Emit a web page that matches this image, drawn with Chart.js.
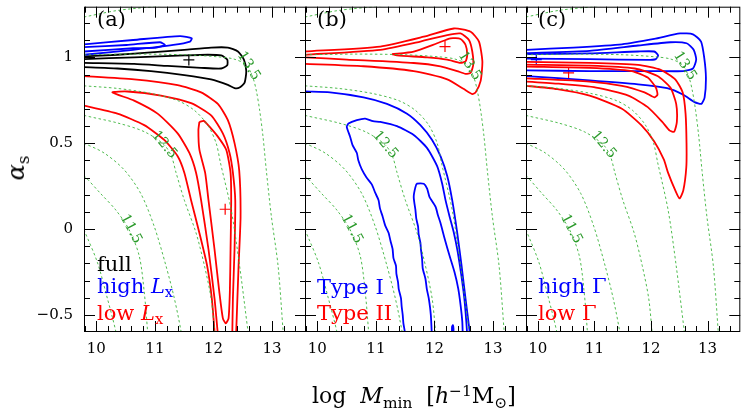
<!DOCTYPE html>
<html>
<head>
<meta charset="utf-8">
<script src="https://cdn.jsdelivr.net/npm/chart.js@4.4.1/dist/chart.umd.min.js"></script>
<style>
    body { margin: 0; background: #fff; }
    #wrap { position: relative; width: 747px; height: 414px; overflow: hidden; font-family: 'DejaVu Serif', serif; }
    #wrap canvas { position: absolute; left: 0; top: 0; }
    .txt { position: absolute; white-space: nowrap; font-size: 21px; line-height: 1; }
    .sub { font-size: 0.7em; position: relative; top: 0.3em; }
    .sup { font-size: 0.7em; position: relative; top: -0.45em; }
    .blue { color: #0000ff; }
    .red { color: #ff0000; }
</style>
</head>
<body>
<div id="wrap">
    <canvas id="panelA" width="747" height="414"></canvas>
    <canvas id="panelB" width="747" height="414"></canvas>
    <canvas id="panelC" width="747" height="414"></canvas>

    <div class="txt" style="left:97px; top:9px;">(a)</div>
    <div class="txt" style="left:317px; top:9px;">(b)</div>
    <div class="txt" style="left:538px; top:9px;">(c)</div>

    <div class="txt" style="left:97px; top:254px;">full</div>
    <div class="txt blue" style="left:97px; top:276px;">high <i>L</i><span class="sub">x</span></div>
    <div class="txt red" style="left:97px; top:303px;">low <i>L</i><span class="sub">x</span></div>

    <div class="txt blue" style="left:317px; top:277px;">Type I</div>
    <div class="txt red" style="left:317px; top:303px;">Type II</div>

    <div class="txt blue" style="left:538px; top:276px;">high Γ</div>
    <div class="txt red" style="left:538px; top:303px;">low Γ</div>

    <div class="txt" style="left:312px; top:385px; font-size:22px;">log&nbsp;&nbsp;<i>M</i><span class="sub">min</span>&nbsp;&nbsp;[<i>h</i><span class="sup">−1</span>M<span class="sub">⊙</span>]</div>
    <div class="txt" style="left:16px; top:168px; font-size:24px; transform: translate(-50%, -50%) rotate(-90deg);"><i>α</i><span class="sub">s</span></div>
</div>

<script>
//################# Axes #################
const X_MIN = 9.79, X_MAX = 13.58;
const Y_MIN = -0.6, Y_MAX = 1.295;
const xMajorTicks = [10, 11, 12, 13];
const yMajorTicks = [-0.5, 0, 0.5, 1];
const xTickMarks = [9.8, 10, 10.2, 10.4, 10.6, 10.8, 11, 11.2, 11.4, 11.6, 11.8, 12, 12.2, 12.4, 12.6, 12.8, 13, 13.2, 13.4];
const yTickMarks = [-0.5, -0.4, -0.3, -0.2, -0.1, 0, 0.1, 0.2, 0.3, 0.4, 0.5, 0.6, 0.7, 0.8, 0.9, 1, 1.1, 1.2];

//################# Green iso-mass curves (same in all panels) #################
const iso110 = [[9.70, 0.07], [9.789, -0.004], [10.018, -0.194], [10.189, -0.404], [10.332, -0.595], [10.35, -0.65]];
const iso115 = [[9.70, 0.33], [9.789, 0.311], [10.075, 0.206], [10.332, 0.111], [10.56, -0.004], [10.732, -0.156], [10.818, -0.366], [10.875, -0.595], [10.88, -0.65]];
const iso120 = [[9.70, 0.515], [9.789, 0.50], [10.132, 0.443], [10.475, 0.345], [10.76, 0.206], [10.989, 0.015], [11.189, -0.214], [11.332, -0.404], [11.446, -0.595], [11.46, -0.65]];
const iso125 = [[9.70, 0.675], [9.789, 0.662], [10.36, 0.618], [10.818, 0.567], [11.16, 0.49], [11.286, 0.42], [11.36, 0.33], [11.503, 0.168], [11.703, -0.023], [11.846, -0.214], [11.96, -0.404], [12.018, -0.595], [12.03, -0.65]];
const iso130 = [[9.70, 0.836], [9.789, 0.834], [10.36, 0.819], [10.932, 0.79], [11.389, 0.748], [11.675, 0.691], [11.903, 0.605], [12.046, 0.50], [12.12, 0.385], [12.303, 0.111], [12.446, -0.214], [12.589, -0.595], [12.61, -0.65]];
const iso135 = [[9.70, 1.016], [9.789, 1.015], [10.646, 1.019], [11.503, 1.015], [12.075, 1.003], [12.35, 0.99], [12.56, 0.955], [12.675, 0.88], [12.735, 0.80], [12.789, 0.691], [12.846, 0.538], [12.903, 0.34], [12.989, 0.073], [13.103, -0.214], [13.189, -0.595], [13.2, -0.65]];
const isoTop = [[9.70, 1.23], [9.789, 1.235], [10.36, 1.273], [10.989, 1.296], [11.3, 1.31]];

const isoLabelText = ['11.5', '12.5', '13.5'];
const isoLabelAt = [[10.59, 0.0], [11.16, 0.49], [12.60, 0.95]];

//################# Panel (a): full / high Lx / low Lx #################
const aBlueOuter = [[9.70, 1.074], [9.789, 1.076], [10.629, 1.101], [11.429, 1.124], [11.629, 1.111], [11.60, 1.092], [11.315, 1.072], [10.629, 1.044], [9.789, 1.015], [9.70, 1.013]];
const aBlueInner = [[9.70, 1.058], [9.789, 1.059], [10.515, 1.072], [11.086, 1.088], [11.172, 1.072], [11.029, 1.057], [10.629, 1.053], [9.789, 1.034], [9.70, 1.033]];
const aBlackOuter = [[9.70, 1.005], [9.789, 1.006], [10.36, 1.015], [10.932, 1.029], [11.503, 1.044], [11.96, 1.057], [12.246, 1.057], [12.418, 1.034], [12.52, 0.987], [12.56, 0.92], [12.532, 0.853], [12.446, 0.824], [12.36, 0.821], [12.246, 0.84], [11.96, 0.872], [11.503, 0.897], [10.932, 0.92], [10.36, 0.935], [9.789, 0.943], [9.70, 0.944]];
const aBlackInner = [[9.70, 0.989], [9.789, 0.99], [10.646, 1.0], [11.503, 1.011], [11.903, 1.015], [12.132, 1.011], [12.235, 0.987], [12.235, 0.954], [12.132, 0.935], [11.789, 0.939], [11.217, 0.95], [10.646, 0.962], [9.789, 0.968], [9.70, 0.969]];
const aRedOuter = [[12.03, -0.65], [12.018, -0.595], [11.972, -0.404], [11.892, -0.214], [11.76, -0.023], [11.618, 0.168], [11.503, 0.328], [11.389, 0.424], [11.16, 0.519], [10.818, 0.605], [10.36, 0.672], [9.789, 0.719], [9.70, 0.725],
                   [9.70, 0.892], [9.789, 0.891], [10.646, 0.872], [11.389, 0.838], [11.789, 0.796], [12.075, 0.729], [12.246, 0.634], [12.36, 0.50], [12.44, 0.34], [12.463, 0.073], [12.429, -0.214], [12.389, -0.595], [12.385, -0.65]];
const aRedMiddle = [[12.085, -0.65], [12.018, -0.404], [11.915, -0.118], [11.789, 0.168], [11.703, 0.328], [11.589, 0.443], [11.389, 0.557], [11.046, 0.672], [10.646, 0.748], [10.275, 0.796],
                    [10.532, 0.801], [11.103, 0.777], [11.618, 0.733], [11.96, 0.662], [12.16, 0.557], [12.275, 0.443], [12.332, 0.328], [12.372, 0.168], [12.36, -0.118], [12.332, -0.404], [12.32, -0.65]];
const aRedInner = [[11.76, 0.624], [11.743, 0.576], [11.76, 0.462], [11.858, 0.328], [11.915, 0.168], [12.018, -0.118], [12.10, -0.366], [12.16, -0.519], [12.21, -0.55], [12.258, -0.52], [12.28, -0.366], [12.292, -0.118], [12.303, 0.168], [12.292, 0.328], [12.218, 0.462], [12.075, 0.538], [11.932, 0.596], [11.835, 0.63], [11.76, 0.624]];
const aBestBlack = [11.58, 0.985];
const aBestRed = [12.20, 0.115];

//################# Panel (b): Type I / Type II #################
const bRedOuter = [[9.70, 1.032], [9.789, 1.034], [11.075, 1.063], [11.818, 1.12], [12.332, 1.168], [12.618, 1.149], [12.76, 1.092], [12.818, 0.977], [12.789, 0.863], [12.703, 0.796], [12.646, 0.786], [12.503, 0.815], [12.218, 0.872], [11.646, 0.92], [10.789, 0.948], [9.789, 0.962], [9.70, 0.963]];
const bRedMiddle = [[9.70, 1.013], [9.789, 1.015], [11.075, 1.044], [11.76, 1.092], [12.218, 1.13], [12.446, 1.139], [12.589, 1.101], [12.646, 1.034], [12.663, 0.958], [12.618, 0.91], [12.532, 0.904], [12.389, 0.92], [12.103, 0.948], [11.646, 0.967], [10.503, 0.987], [9.789, 1.0], [9.70, 1.001]];
const bRedInner = [[11.275, 1.019], [11.646, 1.034], [12.046, 1.082], [12.275, 1.111], [12.446, 1.107], [12.532, 1.072], [12.56, 1.015], [12.532, 0.977], [12.446, 0.968], [12.218, 0.987], [11.875, 1.0], [11.36, 1.011], [11.275, 1.019]];
const bBlueOuter = [[9.70, 0.803], [9.789, 0.801], [10.218, 0.796], [10.789, 0.767], [11.189, 0.729], [11.532, 0.672], [11.76, 0.605], [11.96, 0.519], [12.103, 0.424], [12.218, 0.309], [12.303, 0.168], [12.389, -0.023], [12.463, -0.214], [12.53, -0.404], [12.60, -0.595], [12.61, -0.65]];
const bBlueMiddle = [[11.50, -0.65], [11.492, -0.595], [11.47, -0.55], [11.458, -0.5], [11.44, -0.45], [11.429, -0.404], [11.39, -0.35], [11.378, -0.309], [11.35, -0.26], [11.343, -0.214], [11.30, -0.17], [11.286, -0.118], [11.25, -0.07], [11.218, -0.023], [11.16, 0.02], [11.115, 0.073], [11.07, 0.12], [11.046, 0.168], [10.99, 0.21], [10.93, 0.26], [10.84, 0.30], [10.76, 0.347], [10.70, 0.40], [10.675, 0.443], [10.60, 0.49], [10.56, 0.538], [10.503, 0.595], [10.532, 0.614],
                     [10.675, 0.634], [10.818, 0.643], [10.95, 0.628], [11.075, 0.624], [11.36, 0.599], [11.646, 0.548], [11.875, 0.471], [12.046, 0.366], [12.132, 0.264], [12.189, 0.168], [12.258, 0.073], [12.332, -0.023], [12.389, -0.118], [12.435, -0.214], [12.475, -0.309], [12.51, -0.404], [12.535, -0.5], [12.555, -0.595], [12.56, -0.65]];
const bBlueInner = [[11.96, -0.65], [11.938, -0.5], [11.903, -0.404], [11.87, -0.35], [11.846, -0.29], [11.80, -0.23], [11.789, -0.175], [11.77, -0.12], [11.76, -0.08], [11.73, -0.03], [11.72, 0.015], [11.69, 0.06], [11.675, 0.111], [11.646, 0.187], [11.675, 0.244], [11.703, 0.264], [11.818, 0.264], [11.875, 0.235],
                    [11.915, 0.187], [12.018, 0.13], [12.06, 0.08], [12.103, 0.035], [12.178, -0.061], [12.258, -0.156], [12.343, -0.252], [12.406, -0.347], [12.446, -0.443], [12.475, -0.538], [12.486, -0.65]];
const bBlueBlob = [[12.30, -0.65], [12.30, -0.57], [12.315, -0.56], [12.325, -0.58], [12.325, -0.65]];
const bBestRed = [12.18, 1.063];

//################# Panel (c): high Gamma / low Gamma #################
const cBlueOuter = [[9.70, 1.043], [9.8, 1.044], [10.63, 1.057], [11.486, 1.076], [12.058, 1.107], [12.515, 1.139], [12.743, 1.134], [12.886, 1.092], [12.943, 0.996], [12.972, 0.882], [12.949, 0.767], [12.892, 0.729], [12.772, 0.739], [12.572, 0.782], [12.286, 0.82], [11.772, 0.843], [10.915, 0.866], [9.8, 0.891], [9.70, 0.893]];
const cBlueMiddle = [[9.70, 1.024], [9.8, 1.025], [10.915, 1.038], [11.772, 1.069], [12.343, 1.088], [12.63, 1.082], [12.755, 1.044], [12.80, 0.987], [12.743, 0.935], [12.572, 0.92], [12.058, 0.92], [10.915, 0.92], [9.8, 0.924], [9.70, 0.925]];
const cBlueInner = [[9.70, 1.019], [9.8, 1.019], [10.915, 1.023], [11.772, 1.034], [12.058, 1.034], [12.126, 1.011], [12.086, 0.99], [11.943, 0.985], [10.915, 0.99], [9.8, 0.992], [9.70, 0.992]];
const cRedOuter = [[9.70, 0.974], [9.8, 0.973], [10.915, 0.968], [11.772, 0.956], [12.172, 0.927], [12.429, 0.872], [12.56, 0.796], [12.612, 0.672], [12.629, 0.50], [12.625, 0.36], [12.572, 0.225], [12.505, 0.178], [12.43, 0.225], [12.30, 0.33], [12.229, 0.404], [12.058, 0.51], [11.829, 0.605], [11.486, 0.70], [10.915, 0.777], [10.343, 0.815], [9.8, 0.834], [9.70, 0.836]];
const cRedMiddle = [[9.70, 0.959], [9.8, 0.958], [10.915, 0.952], [11.715, 0.935], [12.115, 0.891], [12.343, 0.824], [12.446, 0.729], [12.458, 0.624], [12.412, 0.567], [12.332, 0.573], [12.2, 0.624], [11.943, 0.71], [11.6, 0.777], [11.03, 0.824], [10.343, 0.847], [9.8, 0.859], [9.70, 0.86]];
const cRedInner = [[9.70, 0.947], [9.8, 0.946], [10.915, 0.939], [11.658, 0.92], [11.943, 0.882], [12.086, 0.824], [12.115, 0.782], [12.058, 0.767], [11.886, 0.796], [11.486, 0.834], [10.915, 0.859], [9.8, 0.878], [9.70, 0.879]];
const cBestBlue = [9.972, 0.987];
const cBestRed = [10.543, 0.91];

//################# Dataset helpers #################
const RED = '#ff0000', BLUE = '#0000ff', BLACK = '#000000', GREEN = '#3cb43c';

function contour(pts, color) {
    return {
        data: pts.map(p => ({ x: p[0], y: p[1] })),
        showLine: true,
        borderColor: color,
        borderWidth: 1.8,
        pointRadius: 0,
        fill: false,
        tension: 0.2,
        clip: 0,
    };
}

function isoLine(pts) {
    return {
        data: pts.map(p => ({ x: p[0], y: p[1] })),
        showLine: true,
        borderColor: GREEN,
        borderWidth: 0.9,
        borderDash: [2.5, 2.5],
        pointRadius: 0,
        fill: false,
        tension: 0.3,
        clip: 0,
    };
}

function bestFit(pt, color) {
    return {
        data: [{ x: pt[0], y: pt[1] }],
        showLine: false,
        pointStyle: 'cross',
        pointRadius: 5.5,
        borderColor: color,
        borderWidth: 1.2,
        clip: 0,
    };
}

const isoSets = () => [iso110, iso115, iso120, iso125, iso130, iso135, isoTop].map(isoLine);

//################# Plugins: frame with inward ticks, iso labels #################
const isMajorX = v => Math.abs(v - Math.round(v)) < 1e-6;
const isMajorY = v => Math.abs(v * 2 - Math.round(v * 2)) < 1e-6;

const framePlugin = {
    id: 'frame',
    afterDatasetsDraw(chart) {
        const { ctx, chartArea: a } = chart;
        const xs = chart.scales.x, ys = chart.scales.y;
        ctx.save();
        ctx.strokeStyle = '#000';
        ctx.lineWidth = 1;
        ctx.strokeRect(a.left + 0.5, a.top + 0.5, a.right - a.left - 1, a.bottom - a.top - 1);
        ctx.beginPath();
        xTickMarks.forEach(v => {
            const px = Math.round(xs.getPixelForValue(v)) + 0.5;
            const len = isMajorX(v) ? 11 : 6;
            ctx.moveTo(px, a.bottom); ctx.lineTo(px, a.bottom - len);
            ctx.moveTo(px, a.top); ctx.lineTo(px, a.top + len);
        });
        yTickMarks.forEach(v => {
            const py = Math.round(ys.getPixelForValue(v)) + 0.5;
            const len = isMajorY(v) ? 11 : 6;
            ctx.moveTo(a.left, py); ctx.lineTo(a.left + len, py);
            ctx.moveTo(a.right, py); ctx.lineTo(a.right - len, py);
        });
        ctx.stroke();
        ctx.restore();
    }
};

const isoLabelAngles = [62, 50, 58];
const isoLabelPlugin = {
    id: 'isoLabels',
    afterDatasetsDraw(chart) {
        const ctx = chart.ctx;
        ctx.save();
        ctx.fillStyle = '#2a9a2a';
        ctx.font = '14px "DejaVu Serif"';
        ctx.textAlign = 'center';
        ctx.textBaseline = 'middle';
        isoLabelText.forEach((t, i) => {
            const px = chart.scales.x.getPixelForValue(isoLabelAt[i][0]);
            const py = chart.scales.y.getPixelForValue(isoLabelAt[i][1]);
            ctx.save();
            ctx.translate(px, py);
            ctx.rotate(isoLabelAngles[i] * Math.PI / 180);
            ctx.fillText(t, 0, 0);
            ctx.restore();
        });
        ctx.restore();
    }
};

//################# Chart factory #################
function makePanel(id, padLeft, padRight, showY, datasets) {
    return new Chart(document.getElementById(id), {
        type: 'scatter',
        data: { datasets: datasets },
        options: {
            responsive: false,
            animation: false,
            events: [],
            layout: { padding: { left: padLeft, right: padRight, top: 1, bottom: 0 } },
            plugins: { legend: { display: false }, tooltip: { enabled: false } },
            scales: {
                x: {
                    type: 'linear',
                    min: X_MIN,
                    max: X_MAX,
                    grid: { display: false, drawTicks: false },
                    border: { display: false },
                    afterBuildTicks: s => { s.ticks = xMajorTicks.map(v => ({ value: v })); },
                    afterFit: s => { s.height = 82; s.paddingLeft = 0; s.paddingRight = 0; },
                    ticks: {
                        padding: 8,
                        color: '#000',
                        maxRotation: 0,
                        autoSkip: false,
                        font: { family: 'DejaVu Serif', size: 15 },
                        callback: v => String(v),
                    },
                },
                y: {
                    type: 'linear',
                    display: showY,
                    min: Y_MIN,
                    max: Y_MAX,
                    grid: { display: false, drawTicks: false },
                    border: { display: false },
                    afterBuildTicks: s => { s.ticks = yMajorTicks.map(v => ({ value: v })); },
                    afterFit: s => { s.width = showY ? 84 : 0; s.paddingTop = 0; s.paddingBottom = 0; },
                    ticks: {
                        padding: 11,
                        color: '#000',
                        autoSkip: false,
                        font: { family: 'DejaVu Serif', size: 15 },
                        callback: v => (v < 0 ? '\u2212' + Math.abs(v) : String(v)),
                    },
                },
            },
        },
        plugins: [framePlugin, isoLabelPlugin],
    });
}

//################# Build the three panels #################
// neighbouring panels overlap by one pixel so that their shared border is a single line
makePanel('panelA', 0, 747 - 306, true, [
    ...isoSets(),
    contour(aRedOuter, RED), contour(aRedMiddle, RED), contour(aRedInner, RED),
    contour(aBlueOuter, BLUE), contour(aBlueInner, BLUE),
    contour(aBlackOuter, BLACK), contour(aBlackInner, BLACK),
    bestFit(aBestBlack, BLACK), bestFit(aBestRed, RED),
]);

makePanel('panelB', 305, 747 - 527, false, [
    ...isoSets(),
    contour(bBlueOuter, BLUE), contour(bBlueMiddle, BLUE), contour(bBlueInner, BLUE), contour(bBlueBlob, BLUE),
    contour(bRedOuter, RED), contour(bRedMiddle, RED), contour(bRedInner, RED),
    bestFit(bBestRed, RED),
]);

makePanel('panelC', 526, 1, false, [
    ...isoSets(),
    contour(cRedOuter, RED), contour(cRedMiddle, RED), contour(cRedInner, RED),
    contour(cBlueOuter, BLUE), contour(cBlueMiddle, BLUE), contour(cBlueInner, BLUE),
    bestFit(cBestRed, RED), bestFit(cBestBlue, BLUE),
]);
</script>
</body>
</html>
